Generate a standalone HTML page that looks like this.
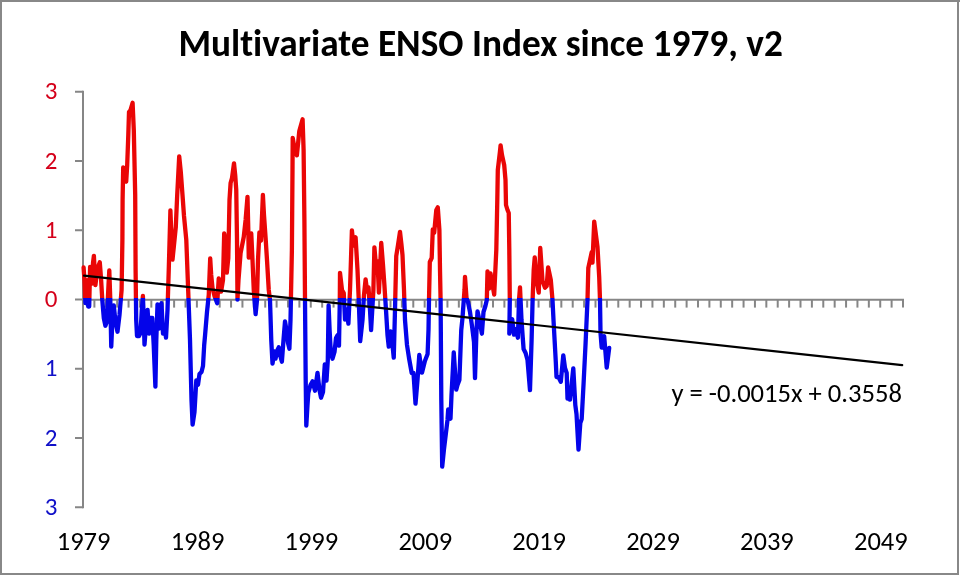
<!DOCTYPE html>
<html><head><meta charset="utf-8"><title>Multivariate ENSO Index since 1979, v2</title>
<style>
html,body{margin:0;padding:0;background:#fff;}
body{width:960px;height:576px;overflow:hidden;position:relative;}
#frame{position:absolute;left:0;top:0;width:959px;height:575px;box-sizing:border-box;border:2px solid #888;}
svg{position:absolute;left:0;top:0;}
</style></head><body>
<div id="frame"></div><div style="position:absolute;left:957px;top:0;width:3px;height:2px;background:#888"></div>
<svg width="960" height="576" viewBox="0 0 960 576">
<defs>
<clipPath id="above"><rect x="0" y="0" width="960" height="298"/></clipPath>
<clipPath id="below"><rect x="0" y="298" width="960" height="278"/></clipPath>
</defs>
<text x="178.4" y="56" font-family="Carlito, 'Liberation Sans', sans-serif" font-weight="bold" font-size="37.3" style="font-variant-ligatures:none" textLength="604.4" lengthAdjust="spacingAndGlyphs" fill="#000">Multivariate ENSO Index since 1979, v2</text>
<line x1="83" y1="91.75" x2="83" y2="507.25" stroke="#868686" stroke-width="2" stroke-linecap="square"/>
<line x1="75" y1="507.25" x2="83" y2="507.25" stroke="#868686" stroke-width="2"/>
<line x1="75" y1="438.00" x2="83" y2="438.00" stroke="#868686" stroke-width="2"/>
<line x1="75" y1="368.75" x2="83" y2="368.75" stroke="#868686" stroke-width="2"/>
<line x1="75" y1="299.50" x2="83" y2="299.50" stroke="#868686" stroke-width="2"/>
<line x1="75" y1="230.25" x2="83" y2="230.25" stroke="#868686" stroke-width="2"/>
<line x1="75" y1="161.00" x2="83" y2="161.00" stroke="#868686" stroke-width="2"/>
<line x1="75" y1="91.75" x2="83" y2="91.75" stroke="#868686" stroke-width="2"/>
<line x1="82" y1="299.75" x2="904" y2="299.75" stroke="#868686" stroke-width="2"/>
<line x1="83.00" y1="299.50" x2="83.00" y2="307.6" stroke="#868686" stroke-width="2"/>
<line x1="94.39" y1="299.50" x2="94.39" y2="307.6" stroke="#868686" stroke-width="2"/>
<line x1="105.78" y1="299.50" x2="105.78" y2="307.6" stroke="#868686" stroke-width="2"/>
<line x1="117.17" y1="299.50" x2="117.17" y2="307.6" stroke="#868686" stroke-width="2"/>
<line x1="128.56" y1="299.50" x2="128.56" y2="307.6" stroke="#868686" stroke-width="2"/>
<line x1="139.94" y1="299.50" x2="139.94" y2="307.6" stroke="#868686" stroke-width="2"/>
<line x1="151.33" y1="299.50" x2="151.33" y2="307.6" stroke="#868686" stroke-width="2"/>
<line x1="162.72" y1="299.50" x2="162.72" y2="307.6" stroke="#868686" stroke-width="2"/>
<line x1="174.11" y1="299.50" x2="174.11" y2="307.6" stroke="#868686" stroke-width="2"/>
<line x1="185.50" y1="299.50" x2="185.50" y2="307.6" stroke="#868686" stroke-width="2"/>
<line x1="196.89" y1="299.50" x2="196.89" y2="307.6" stroke="#868686" stroke-width="2"/>
<line x1="208.28" y1="299.50" x2="208.28" y2="307.6" stroke="#868686" stroke-width="2"/>
<line x1="219.67" y1="299.50" x2="219.67" y2="307.6" stroke="#868686" stroke-width="2"/>
<line x1="231.06" y1="299.50" x2="231.06" y2="307.6" stroke="#868686" stroke-width="2"/>
<line x1="242.44" y1="299.50" x2="242.44" y2="307.6" stroke="#868686" stroke-width="2"/>
<line x1="253.83" y1="299.50" x2="253.83" y2="307.6" stroke="#868686" stroke-width="2"/>
<line x1="265.22" y1="299.50" x2="265.22" y2="307.6" stroke="#868686" stroke-width="2"/>
<line x1="276.61" y1="299.50" x2="276.61" y2="307.6" stroke="#868686" stroke-width="2"/>
<line x1="288.00" y1="299.50" x2="288.00" y2="307.6" stroke="#868686" stroke-width="2"/>
<line x1="299.39" y1="299.50" x2="299.39" y2="307.6" stroke="#868686" stroke-width="2"/>
<line x1="310.78" y1="299.50" x2="310.78" y2="307.6" stroke="#868686" stroke-width="2"/>
<line x1="322.17" y1="299.50" x2="322.17" y2="307.6" stroke="#868686" stroke-width="2"/>
<line x1="333.56" y1="299.50" x2="333.56" y2="307.6" stroke="#868686" stroke-width="2"/>
<line x1="344.94" y1="299.50" x2="344.94" y2="307.6" stroke="#868686" stroke-width="2"/>
<line x1="356.33" y1="299.50" x2="356.33" y2="307.6" stroke="#868686" stroke-width="2"/>
<line x1="367.72" y1="299.50" x2="367.72" y2="307.6" stroke="#868686" stroke-width="2"/>
<line x1="379.11" y1="299.50" x2="379.11" y2="307.6" stroke="#868686" stroke-width="2"/>
<line x1="390.50" y1="299.50" x2="390.50" y2="307.6" stroke="#868686" stroke-width="2"/>
<line x1="401.89" y1="299.50" x2="401.89" y2="307.6" stroke="#868686" stroke-width="2"/>
<line x1="413.28" y1="299.50" x2="413.28" y2="307.6" stroke="#868686" stroke-width="2"/>
<line x1="424.67" y1="299.50" x2="424.67" y2="307.6" stroke="#868686" stroke-width="2"/>
<line x1="436.06" y1="299.50" x2="436.06" y2="307.6" stroke="#868686" stroke-width="2"/>
<line x1="447.44" y1="299.50" x2="447.44" y2="307.6" stroke="#868686" stroke-width="2"/>
<line x1="458.83" y1="299.50" x2="458.83" y2="307.6" stroke="#868686" stroke-width="2"/>
<line x1="470.22" y1="299.50" x2="470.22" y2="307.6" stroke="#868686" stroke-width="2"/>
<line x1="481.61" y1="299.50" x2="481.61" y2="307.6" stroke="#868686" stroke-width="2"/>
<line x1="493.00" y1="299.50" x2="493.00" y2="307.6" stroke="#868686" stroke-width="2"/>
<line x1="504.39" y1="299.50" x2="504.39" y2="307.6" stroke="#868686" stroke-width="2"/>
<line x1="515.78" y1="299.50" x2="515.78" y2="307.6" stroke="#868686" stroke-width="2"/>
<line x1="527.17" y1="299.50" x2="527.17" y2="307.6" stroke="#868686" stroke-width="2"/>
<line x1="538.56" y1="299.50" x2="538.56" y2="307.6" stroke="#868686" stroke-width="2"/>
<line x1="549.94" y1="299.50" x2="549.94" y2="307.6" stroke="#868686" stroke-width="2"/>
<line x1="561.33" y1="299.50" x2="561.33" y2="307.6" stroke="#868686" stroke-width="2"/>
<line x1="572.72" y1="299.50" x2="572.72" y2="307.6" stroke="#868686" stroke-width="2"/>
<line x1="584.11" y1="299.50" x2="584.11" y2="307.6" stroke="#868686" stroke-width="2"/>
<line x1="595.50" y1="299.50" x2="595.50" y2="307.6" stroke="#868686" stroke-width="2"/>
<line x1="606.89" y1="299.50" x2="606.89" y2="307.6" stroke="#868686" stroke-width="2"/>
<line x1="618.28" y1="299.50" x2="618.28" y2="307.6" stroke="#868686" stroke-width="2"/>
<line x1="629.67" y1="299.50" x2="629.67" y2="307.6" stroke="#868686" stroke-width="2"/>
<line x1="641.06" y1="299.50" x2="641.06" y2="307.6" stroke="#868686" stroke-width="2"/>
<line x1="652.44" y1="299.50" x2="652.44" y2="307.6" stroke="#868686" stroke-width="2"/>
<line x1="663.83" y1="299.50" x2="663.83" y2="307.6" stroke="#868686" stroke-width="2"/>
<line x1="675.22" y1="299.50" x2="675.22" y2="307.6" stroke="#868686" stroke-width="2"/>
<line x1="686.61" y1="299.50" x2="686.61" y2="307.6" stroke="#868686" stroke-width="2"/>
<line x1="698.00" y1="299.50" x2="698.00" y2="307.6" stroke="#868686" stroke-width="2"/>
<line x1="709.39" y1="299.50" x2="709.39" y2="307.6" stroke="#868686" stroke-width="2"/>
<line x1="720.78" y1="299.50" x2="720.78" y2="307.6" stroke="#868686" stroke-width="2"/>
<line x1="732.17" y1="299.50" x2="732.17" y2="307.6" stroke="#868686" stroke-width="2"/>
<line x1="743.56" y1="299.50" x2="743.56" y2="307.6" stroke="#868686" stroke-width="2"/>
<line x1="754.94" y1="299.50" x2="754.94" y2="307.6" stroke="#868686" stroke-width="2"/>
<line x1="766.33" y1="299.50" x2="766.33" y2="307.6" stroke="#868686" stroke-width="2"/>
<line x1="777.72" y1="299.50" x2="777.72" y2="307.6" stroke="#868686" stroke-width="2"/>
<line x1="789.11" y1="299.50" x2="789.11" y2="307.6" stroke="#868686" stroke-width="2"/>
<line x1="800.50" y1="299.50" x2="800.50" y2="307.6" stroke="#868686" stroke-width="2"/>
<line x1="811.89" y1="299.50" x2="811.89" y2="307.6" stroke="#868686" stroke-width="2"/>
<line x1="823.28" y1="299.50" x2="823.28" y2="307.6" stroke="#868686" stroke-width="2"/>
<line x1="834.67" y1="299.50" x2="834.67" y2="307.6" stroke="#868686" stroke-width="2"/>
<line x1="846.06" y1="299.50" x2="846.06" y2="307.6" stroke="#868686" stroke-width="2"/>
<line x1="857.44" y1="299.50" x2="857.44" y2="307.6" stroke="#868686" stroke-width="2"/>
<line x1="868.83" y1="299.50" x2="868.83" y2="307.6" stroke="#868686" stroke-width="2"/>
<line x1="880.22" y1="299.50" x2="880.22" y2="307.6" stroke="#868686" stroke-width="2"/>
<line x1="891.61" y1="299.50" x2="891.61" y2="307.6" stroke="#868686" stroke-width="2"/>
<line x1="903.00" y1="299.50" x2="903.00" y2="307.6" stroke="#868686" stroke-width="2"/>
<text x="57.5" y="514.75" text-anchor="end" font-family="Carlito, 'Liberation Sans', sans-serif" font-size="25" fill="#1010c8">3</text>
<text x="57.5" y="445.50" text-anchor="end" font-family="Carlito, 'Liberation Sans', sans-serif" font-size="25" fill="#1010c8">2</text>
<text x="57.5" y="376.25" text-anchor="end" font-family="Carlito, 'Liberation Sans', sans-serif" font-size="25" fill="#1010c8">1</text>
<text x="57.5" y="307.00" text-anchor="end" font-family="Carlito, 'Liberation Sans', sans-serif" font-size="25" fill="#d4001a">0</text>
<text x="57.5" y="237.75" text-anchor="end" font-family="Carlito, 'Liberation Sans', sans-serif" font-size="25" fill="#d4001a">1</text>
<text x="57.5" y="168.50" text-anchor="end" font-family="Carlito, 'Liberation Sans', sans-serif" font-size="25" fill="#d4001a">2</text>
<text x="57.5" y="99.25" text-anchor="end" font-family="Carlito, 'Liberation Sans', sans-serif" font-size="25" fill="#d4001a">3</text>
<text x="83.60" y="550.4" text-anchor="middle" font-family="Carlito, 'Liberation Sans', sans-serif" font-size="26.5" textLength="53.73" lengthAdjust="spacingAndGlyphs" fill="#000">1979</text>
<text x="197.49" y="550.4" text-anchor="middle" font-family="Carlito, 'Liberation Sans', sans-serif" font-size="26.5" textLength="53.73" lengthAdjust="spacingAndGlyphs" fill="#000">1989</text>
<text x="311.38" y="550.4" text-anchor="middle" font-family="Carlito, 'Liberation Sans', sans-serif" font-size="26.5" textLength="53.73" lengthAdjust="spacingAndGlyphs" fill="#000">1999</text>
<text x="425.27" y="550.4" text-anchor="middle" font-family="Carlito, 'Liberation Sans', sans-serif" font-size="26.5" textLength="53.73" lengthAdjust="spacingAndGlyphs" fill="#000">2009</text>
<text x="539.16" y="550.4" text-anchor="middle" font-family="Carlito, 'Liberation Sans', sans-serif" font-size="26.5" textLength="53.73" lengthAdjust="spacingAndGlyphs" fill="#000">2019</text>
<text x="653.04" y="550.4" text-anchor="middle" font-family="Carlito, 'Liberation Sans', sans-serif" font-size="26.5" textLength="53.73" lengthAdjust="spacingAndGlyphs" fill="#000">2029</text>
<text x="766.93" y="550.4" text-anchor="middle" font-family="Carlito, 'Liberation Sans', sans-serif" font-size="26.5" textLength="53.73" lengthAdjust="spacingAndGlyphs" fill="#000">2039</text>
<text x="880.82" y="550.4" text-anchor="middle" font-family="Carlito, 'Liberation Sans', sans-serif" font-size="26.5" textLength="53.73" lengthAdjust="spacingAndGlyphs" fill="#000">2049</text>
<polyline points="83.60,267.5 84.40,279.4 85.40,303.2 86.30,285.0 87.30,280.3 88.20,306.5 89.20,306.5 90.10,266.8 91.10,273.0 92.00,283.7 93.00,263.0 93.90,255.8 95.40,285.2 96.50,276.0 98.00,267.0 99.80,262.3 101.00,278.0 102.30,300.0 103.80,318.0 105.40,325.7 106.80,322.0 107.80,300.0 108.50,285.0 109.30,270.3 110.30,300.0 111.25,346.7 112.50,318.0 113.75,305.3 115.50,322.0 117.50,331.7 119.50,315.0 121.60,290.0 122.40,240.0 122.60,200.0 123.20,167.3 124.50,173.0 126.20,181.7 127.20,165.0 128.30,135.0 129.00,112.0 130.50,110.0 132.60,102.8 133.80,130.0 135.20,195.0 135.60,270.0 136.20,320.0 137.00,336.0 139.00,336.0 140.50,333.0 141.80,310.0 142.90,295.8 143.80,320.0 144.50,344.7 146.00,325.0 147.60,309.8 149.00,333.7 150.50,318.0 152.30,318.0 153.70,345.0 155.40,386.7 156.30,340.0 157.50,304.3 159.00,328.7 160.50,306.0 161.50,303.3 163.00,333.7 164.50,325.3 166.00,337.7 167.50,310.0 168.75,270.0 170.40,210.3 171.50,238.0 172.50,259.7 174.00,245.0 175.80,227.0 177.20,195.0 179.20,156.3 180.80,172.0 182.50,195.0 184.00,216.0 186.30,240.0 188.50,299.0 190.00,340.0 191.50,400.0 192.60,424.7 194.50,412.0 196.30,380.3 198.00,384.7 199.50,374.0 201.50,372.0 203.00,366.0 204.20,345.0 205.00,336.0 207.00,312.0 208.75,295.0 210.20,258.3 211.20,275.0 212.50,288.0 214.50,296.0 217.20,303.2 218.75,278.3 220.00,285.0 221.10,291.7 223.00,280.0 224.20,233.3 225.30,240.0 226.80,272.7 228.30,258.0 229.50,200.0 230.60,183.0 232.00,178.0 234.00,163.3 235.20,175.0 236.25,190.0 237.00,240.0 237.50,299.7 238.50,280.0 240.60,253.0 243.75,237.0 245.60,220.0 247.50,196.8 248.30,230.0 248.75,257.7 250.00,245.0 251.25,233.3 252.50,260.0 253.75,290.0 255.60,314.2 257.00,300.0 258.00,260.0 259.40,232.3 261.00,240.7 262.90,194.8 264.00,215.0 265.60,238.0 267.00,260.0 268.75,290.0 270.00,300.0 271.25,340.0 272.50,363.7 274.50,351.3 275.50,358.7 277.50,350.0 278.75,347.3 280.00,355.0 281.90,361.7 283.50,340.0 285.00,321.3 286.50,330.0 288.00,343.0 289.40,348.7 290.50,320.0 291.90,250.0 292.50,170.0 292.70,137.8 294.50,148.0 296.90,155.2 299.30,131.0 302.60,119.3 303.60,150.0 304.40,220.0 305.00,300.0 305.70,380.0 306.30,425.7 307.50,405.0 308.30,393.0 310.50,385.0 312.60,381.3 315.00,390.7 317.50,372.8 319.50,390.0 321.00,397.7 323.00,392.0 324.80,364.3 326.50,380.7 327.80,360.0 328.60,305.3 329.60,330.0 330.80,352.0 332.50,358.7 334.50,352.0 336.00,338.0 337.50,335.3 339.00,345.7 339.80,300.0 340.00,272.8 342.00,290.0 343.75,293.0 345.00,319.7 346.50,309.3 348.40,323.7 350.00,290.0 351.90,230.3 353.50,245.7 355.60,237.3 357.50,270.0 358.75,300.0 360.20,341.2 362.50,320.0 364.00,295.0 365.60,279.3 367.20,291.7 368.50,287.3 370.00,310.0 371.10,330.2 373.40,290.0 374.40,247.3 376.00,265.7 377.50,261.3 378.90,292.7 380.00,270.0 381.25,242.8 383.00,265.0 384.40,285.0 386.00,310.0 387.50,335.0 388.75,346.7 390.60,331.3 392.00,340.0 393.75,357.7 395.00,310.0 396.25,256.0 398.00,245.0 400.00,231.8 401.50,245.0 402.50,255.0 404.00,290.0 405.00,320.0 407.00,345.0 409.00,358.0 411.70,373.0 413.50,373.0 415.50,403.7 417.50,380.0 419.30,354.8 422.00,372.7 424.90,361.0 427.60,354.0 428.50,330.0 429.00,300.0 429.80,262.0 431.70,258.0 432.80,229.3 434.20,232.7 436.30,210.0 437.80,207.3 439.40,230.0 440.00,270.0 440.60,300.0 441.30,400.0 442.20,466.7 443.90,450.0 447.50,420.0 448.20,409.3 450.50,418.7 451.50,395.0 453.75,352.3 456.25,389.7 457.50,385.0 459.40,380.0 461.25,330.0 462.50,318.0 464.50,290.0 465.00,276.8 466.50,298.0 468.00,302.0 470.00,312.0 472.00,326.0 474.00,342.0 475.00,378.2 476.50,330.0 477.50,311.3 479.00,318.0 481.90,333.7 483.50,312.0 485.40,306.0 486.80,300.0 487.50,271.3 489.00,288.7 490.50,273.3 492.50,285.0 494.20,294.7 496.30,250.0 497.30,200.0 497.80,170.0 499.90,152.0 500.60,145.3 502.00,155.0 504.20,165.0 505.50,180.0 506.00,205.0 507.50,210.0 508.75,213.0 509.30,250.0 509.80,300.0 509.30,333.7 511.00,322.0 512.20,319.3 514.00,334.7 516.00,329.3 517.90,337.7 519.00,300.0 520.00,287.3 521.50,320.0 522.70,337.0 523.60,349.0 525.60,353.0 527.50,360.0 530.00,390.2 531.60,340.0 532.60,300.0 533.70,270.0 534.75,257.3 536.50,280.0 538.75,292.7 540.25,247.8 542.50,281.0 545.00,287.7 546.70,286.0 548.10,267.3 550.80,280.0 552.50,300.0 553.50,320.0 555.80,362.0 556.50,377.0 558.50,377.0 560.80,381.7 563.30,355.3 565.00,368.0 566.70,373.0 567.50,398.7 569.00,389.3 570.00,399.7 573.30,368.3 575.30,405.0 576.50,414.0 578.50,449.7 580.30,423.0 581.70,419.0 583.50,385.0 585.50,345.0 587.50,300.0 588.30,268.0 591.70,252.3 592.50,262.7 594.20,221.6 597.50,247.0 599.20,277.0 600.00,300.0 600.50,333.0 601.70,347.7 602.50,340.0 604.20,336.3 606.70,367.7 609.20,348.0" fill="none" stroke="#ea0606" stroke-width="4.3" stroke-linejoin="round" stroke-linecap="round" clip-path="url(#above)"/>
<polyline points="83.60,267.5 84.40,279.4 85.40,303.2 86.30,285.0 87.30,280.3 88.20,306.5 89.20,306.5 90.10,266.8 91.10,273.0 92.00,283.7 93.00,263.0 93.90,255.8 95.40,285.2 96.50,276.0 98.00,267.0 99.80,262.3 101.00,278.0 102.30,300.0 103.80,318.0 105.40,325.7 106.80,322.0 107.80,300.0 108.50,285.0 109.30,270.3 110.30,300.0 111.25,346.7 112.50,318.0 113.75,305.3 115.50,322.0 117.50,331.7 119.50,315.0 121.60,290.0 122.40,240.0 122.60,200.0 123.20,167.3 124.50,173.0 126.20,181.7 127.20,165.0 128.30,135.0 129.00,112.0 130.50,110.0 132.60,102.8 133.80,130.0 135.20,195.0 135.60,270.0 136.20,320.0 137.00,336.0 139.00,336.0 140.50,333.0 141.80,310.0 142.90,295.8 143.80,320.0 144.50,344.7 146.00,325.0 147.60,309.8 149.00,333.7 150.50,318.0 152.30,318.0 153.70,345.0 155.40,386.7 156.30,340.0 157.50,304.3 159.00,328.7 160.50,306.0 161.50,303.3 163.00,333.7 164.50,325.3 166.00,337.7 167.50,310.0 168.75,270.0 170.40,210.3 171.50,238.0 172.50,259.7 174.00,245.0 175.80,227.0 177.20,195.0 179.20,156.3 180.80,172.0 182.50,195.0 184.00,216.0 186.30,240.0 188.50,299.0 190.00,340.0 191.50,400.0 192.60,424.7 194.50,412.0 196.30,380.3 198.00,384.7 199.50,374.0 201.50,372.0 203.00,366.0 204.20,345.0 205.00,336.0 207.00,312.0 208.75,295.0 210.20,258.3 211.20,275.0 212.50,288.0 214.50,296.0 217.20,303.2 218.75,278.3 220.00,285.0 221.10,291.7 223.00,280.0 224.20,233.3 225.30,240.0 226.80,272.7 228.30,258.0 229.50,200.0 230.60,183.0 232.00,178.0 234.00,163.3 235.20,175.0 236.25,190.0 237.00,240.0 237.50,299.7 238.50,280.0 240.60,253.0 243.75,237.0 245.60,220.0 247.50,196.8 248.30,230.0 248.75,257.7 250.00,245.0 251.25,233.3 252.50,260.0 253.75,290.0 255.60,314.2 257.00,300.0 258.00,260.0 259.40,232.3 261.00,240.7 262.90,194.8 264.00,215.0 265.60,238.0 267.00,260.0 268.75,290.0 270.00,300.0 271.25,340.0 272.50,363.7 274.50,351.3 275.50,358.7 277.50,350.0 278.75,347.3 280.00,355.0 281.90,361.7 283.50,340.0 285.00,321.3 286.50,330.0 288.00,343.0 289.40,348.7 290.50,320.0 291.90,250.0 292.50,170.0 292.70,137.8 294.50,148.0 296.90,155.2 299.30,131.0 302.60,119.3 303.60,150.0 304.40,220.0 305.00,300.0 305.70,380.0 306.30,425.7 307.50,405.0 308.30,393.0 310.50,385.0 312.60,381.3 315.00,390.7 317.50,372.8 319.50,390.0 321.00,397.7 323.00,392.0 324.80,364.3 326.50,380.7 327.80,360.0 328.60,305.3 329.60,330.0 330.80,352.0 332.50,358.7 334.50,352.0 336.00,338.0 337.50,335.3 339.00,345.7 339.80,300.0 340.00,272.8 342.00,290.0 343.75,293.0 345.00,319.7 346.50,309.3 348.40,323.7 350.00,290.0 351.90,230.3 353.50,245.7 355.60,237.3 357.50,270.0 358.75,300.0 360.20,341.2 362.50,320.0 364.00,295.0 365.60,279.3 367.20,291.7 368.50,287.3 370.00,310.0 371.10,330.2 373.40,290.0 374.40,247.3 376.00,265.7 377.50,261.3 378.90,292.7 380.00,270.0 381.25,242.8 383.00,265.0 384.40,285.0 386.00,310.0 387.50,335.0 388.75,346.7 390.60,331.3 392.00,340.0 393.75,357.7 395.00,310.0 396.25,256.0 398.00,245.0 400.00,231.8 401.50,245.0 402.50,255.0 404.00,290.0 405.00,320.0 407.00,345.0 409.00,358.0 411.70,373.0 413.50,373.0 415.50,403.7 417.50,380.0 419.30,354.8 422.00,372.7 424.90,361.0 427.60,354.0 428.50,330.0 429.00,300.0 429.80,262.0 431.70,258.0 432.80,229.3 434.20,232.7 436.30,210.0 437.80,207.3 439.40,230.0 440.00,270.0 440.60,300.0 441.30,400.0 442.20,466.7 443.90,450.0 447.50,420.0 448.20,409.3 450.50,418.7 451.50,395.0 453.75,352.3 456.25,389.7 457.50,385.0 459.40,380.0 461.25,330.0 462.50,318.0 464.50,290.0 465.00,276.8 466.50,298.0 468.00,302.0 470.00,312.0 472.00,326.0 474.00,342.0 475.00,378.2 476.50,330.0 477.50,311.3 479.00,318.0 481.90,333.7 483.50,312.0 485.40,306.0 486.80,300.0 487.50,271.3 489.00,288.7 490.50,273.3 492.50,285.0 494.20,294.7 496.30,250.0 497.30,200.0 497.80,170.0 499.90,152.0 500.60,145.3 502.00,155.0 504.20,165.0 505.50,180.0 506.00,205.0 507.50,210.0 508.75,213.0 509.30,250.0 509.80,300.0 509.30,333.7 511.00,322.0 512.20,319.3 514.00,334.7 516.00,329.3 517.90,337.7 519.00,300.0 520.00,287.3 521.50,320.0 522.70,337.0 523.60,349.0 525.60,353.0 527.50,360.0 530.00,390.2 531.60,340.0 532.60,300.0 533.70,270.0 534.75,257.3 536.50,280.0 538.75,292.7 540.25,247.8 542.50,281.0 545.00,287.7 546.70,286.0 548.10,267.3 550.80,280.0 552.50,300.0 553.50,320.0 555.80,362.0 556.50,377.0 558.50,377.0 560.80,381.7 563.30,355.3 565.00,368.0 566.70,373.0 567.50,398.7 569.00,389.3 570.00,399.7 573.30,368.3 575.30,405.0 576.50,414.0 578.50,449.7 580.30,423.0 581.70,419.0 583.50,385.0 585.50,345.0 587.50,300.0 588.30,268.0 591.70,252.3 592.50,262.7 594.20,221.6 597.50,247.0 599.20,277.0 600.00,300.0 600.50,333.0 601.70,347.7 602.50,340.0 604.20,336.3 606.70,367.7 609.20,348.0" fill="none" stroke="#0404ea" stroke-width="4.3" stroke-linejoin="round" stroke-linecap="round" clip-path="url(#below)"/>
<line x1="84" y1="275.61" x2="902.2" y2="365.15" stroke="#000" stroke-width="2.2" stroke-linecap="round"/>
<text x="671.5" y="402" font-family="Carlito, 'Liberation Sans', sans-serif" font-size="26.6" textLength="230.45" lengthAdjust="spacingAndGlyphs" fill="#000">y = -0.0015x + 0.3558</text>
</svg>
</body></html>
